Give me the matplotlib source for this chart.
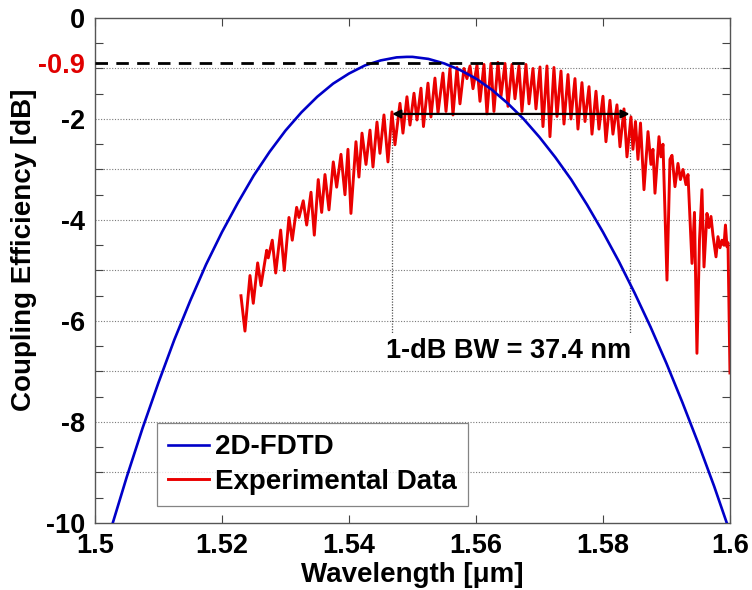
import matplotlib
matplotlib.use("Agg")
import matplotlib.pyplot as plt
from matplotlib.ticker import MultipleLocator, FixedLocator

plt.rcParams['font.family'] = ['Liberation Sans', 'DejaVu Sans']
plt.rcParams['font.weight'] = 'bold'

# 2D-FDTD simulation (wavelength in um, coupling efficiency in dB)
sim_wl = [1.5028, 1.5050, 1.5075, 1.5100, 1.5125, 1.5150, 1.5175, 1.5200,
          1.5225, 1.5250, 1.5275, 1.5300, 1.5325, 1.5350, 1.5375, 1.5400,
          1.5425, 1.5450, 1.5475, 1.5491, 1.5500, 1.5525, 1.5550, 1.5575,
          1.5600, 1.5625, 1.5650, 1.5675, 1.5700, 1.5725, 1.5750, 1.5775,
          1.5800, 1.5825, 1.5850, 1.5875, 1.5900, 1.5925, 1.5950, 1.5975,
          1.5995]
sim_db = [-10.00, -9.09, -8.12, -7.22, -6.37, -5.60, -4.88, -4.24,
          -3.66, -3.12, -2.65, -2.23, -1.87, -1.56, -1.30, -1.10,
          -0.94, -0.84, -0.78, -0.77, -0.77, -0.81, -0.90, -1.03,
          -1.20, -1.42, -1.69, -2.00, -2.36, -2.76, -3.20, -3.70,
          -4.24, -4.82, -5.45, -6.12, -6.84, -7.61, -8.42, -9.27,
          -10.00]

# Measured grating coupler response (wavelength in nm, dB)
exp_wl_nm = [1522.99, 1523.62, 1524.41, 1524.93, 1525.62, 1526.14, 1527.04, 1527.29,
             1527.92, 1528.46, 1529.24, 1529.81, 1530.55, 1531.07, 1531.76, 1532.13,
             1532.80, 1533.34, 1534.02, 1534.54, 1535.16, 1535.70, 1536.22, 1536.85,
             1537.53, 1538.06, 1538.74, 1539.37, 1539.84, 1540.31, 1541.10, 1541.57,
             1542.05, 1542.68, 1543.31, 1543.78, 1544.41, 1544.88, 1545.51, 1546.14,
             1546.77, 1547.24, 1548.03, 1548.50, 1549.13, 1549.61, 1550.24, 1550.71,
             1551.34, 1551.73, 1552.44, 1552.91, 1553.54, 1554.02, 1554.80, 1555.28,
             1555.91, 1556.38, 1557.01, 1557.48, 1558.11, 1558.58, 1559.06, 1559.53,
             1560.16, 1560.63, 1561.26, 1561.73, 1562.36, 1562.83, 1563.46, 1563.94,
             1564.57, 1565.04, 1565.67, 1566.14, 1566.77, 1567.24, 1567.87, 1568.35,
             1568.98, 1569.45, 1570.08, 1570.55, 1571.18, 1571.65, 1572.28, 1572.76,
             1573.39, 1573.86, 1574.49, 1574.96, 1575.59, 1576.06, 1576.69, 1577.17,
             1577.80, 1578.27, 1578.90, 1579.37, 1580.00, 1580.47, 1581.10, 1581.57,
             1582.20, 1582.68, 1583.31, 1583.78, 1584.41, 1584.72, 1585.12, 1585.51,
             1585.91, 1586.46, 1587.09, 1587.56, 1587.87, 1588.19, 1588.82, 1589.13,
             1589.45, 1590.08, 1590.55, 1590.87, 1591.34, 1591.81, 1592.20, 1592.60,
             1593.07, 1593.39, 1594.02, 1594.41, 1594.80, 1595.20, 1595.59, 1595.91,
             1596.38, 1596.69, 1597.01, 1597.32, 1597.80, 1598.11, 1598.43, 1598.74,
             1599.06, 1599.29, 1599.53, 1599.69, 1600.00]
exp_db = [-5.50, -6.20, -5.10, -5.65, -4.85, -5.30, -4.60, -4.75,
          -4.40, -5.05, -4.20, -5.00, -3.95, -4.40, -3.75, -3.95,
          -3.62, -4.10, -3.45, -4.30, -3.20, -3.85, -3.10, -3.80,
          -2.85, -3.35, -2.70, -3.50, -2.60, -3.87, -2.45, -3.15,
          -2.28, -2.90, -2.22, -2.95, -2.06, -2.68, -1.92, -2.85,
          -1.86, -2.51, -1.69, -2.28, -1.56, -2.12, -1.49, -2.02,
          -1.39, -2.15, -1.29, -1.96, -1.19, -1.88, -1.09, -1.85,
          -1.00, -1.92, -0.98, -1.70, -1.00, -1.20, -0.95, -1.40,
          -0.93, -1.65, -0.92, -1.90, -0.90, -1.85, -0.88, -1.55,
          -0.90, -1.75, -0.92, -1.60, -0.95, -1.85, -0.92, -1.70,
          -1.00, -1.80, -0.97, -2.15, -0.95, -2.35, -0.98, -1.95,
          -1.05, -2.10, -1.12, -2.00, -1.20, -2.20, -1.28, -2.05,
          -1.36, -2.30, -1.45, -2.20, -1.55, -2.45, -1.63, -2.30,
          -1.72, -2.55, -1.80, -2.75, -1.96, -2.60, -2.05, -2.80,
          -2.08, -3.40, -2.25, -2.90, -2.60, -3.47, -2.35, -2.75,
          -2.50, -5.19, -2.80, -2.72, -3.34, -2.88, -3.20, -3.00,
          -3.30, -3.10, -4.86, -3.85, -6.64, -4.40, -3.40, -4.93,
          -3.87, -4.15, -3.93, -4.30, -4.73, -4.33, -4.55, -4.40,
          -4.50, -4.10, -4.53, -4.45, -7.03]

peak_db = -0.9
peak_end_wl = 1.5682
bw_left, bw_right = 1.5468, 1.5842
bw_level = -1.9
bw_drop = -6.25
bw_text = "1-dB BW = 37.4 nm"

y_ticks = [0, -0.9, -2, -4, -6, -8, -10]
y_ticklabels = ['0', '-0.9', '-2', '-4', '-6', '-8', '-10']
x_ticks = [1.5, 1.52, 1.54, 1.56, 1.58, 1.6]
x_ticklabels = ['1.5', '1.52', '1.54', '1.56', '1.58', '1.6']

fig = plt.figure(figsize=(7.52, 5.90), dpi=100)
ax = fig.add_axes([0.1263, 0.1136, 0.8444, 0.8559])

# horizontal dotted grid at every whole dB
for g in range(-9, 0):
    ax.axhline(g, color='#7a7a7a', lw=0.8, ls=(0, (1, 1.5)), zorder=0)

ax.plot(sim_wl, sim_db, color='#0000c8', lw=1.9, label='2D-FDTD', zorder=3)
ax.plot([w / 1000 for w in exp_wl_nm], exp_db, color='#ea0000', lw=2.1,
        label='Experimental Data', zorder=2)

# peak level marker
ax.plot([1.5, peak_end_wl], [peak_db, peak_db], color='black', lw=2.0,
        ls=(0, (4.5, 3)), zorder=4)

# bandwidth markers
for xb in (bw_left, bw_right):
    ax.plot([xb, xb], [bw_level, bw_drop], color='#555555', lw=0.9,
            ls=(0, (1, 1.2)), zorder=1)
ax.annotate('', xy=(bw_left, bw_level), xytext=(bw_right, bw_level),
            arrowprops=dict(arrowstyle='<|-|>', color='black', lw=1.6,
                            mutation_scale=12, shrinkA=0, shrinkB=0),
            zorder=5)
ax.text(1.5652, -6.6, bw_text, ha='center', va='center',
        fontsize=19.5, fontweight='bold')

ax.set_xlim(1.5, 1.6)
ax.set_ylim(-10, 0)
ax.xaxis.set_major_locator(FixedLocator(x_ticks))
ax.set_xticklabels(x_ticklabels)
ax.yaxis.set_major_locator(FixedLocator(y_ticks))
ax.set_yticklabels(y_ticklabels)
ax.yaxis.set_minor_locator(MultipleLocator(0.5))
ax.get_yticklabels()[1].set_color('#e00000')

ax.tick_params(axis='x', which='major', direction='in', length=6, width=0.8,
               top=True, labelsize=19.5, pad=7, color='#444444')
ax.tick_params(axis='y', which='major', length=0, labelsize=19.5, pad=7)
ax.tick_params(axis='y', which='minor', direction='in', length=6, width=0.8,
               right=True, color='#444444')
for lab in ax.get_xticklabels() + ax.get_yticklabels():
    lab.set_fontweight('bold')

for sp in ax.spines.values():
    sp.set_color('#555555')
    sp.set_linewidth(1.0)

ax.set_xlabel('Wavelength [\u03bcm]', fontsize=20, fontweight='bold')
ax.xaxis.set_label_coords(0.5, -0.077)
ax.set_ylabel('Coupling Efficiency [dB]', fontsize=20, fontweight='bold')
ax.yaxis.set_label_coords(-0.092, 0.54)

leg = ax.legend(loc='lower left', bbox_to_anchor=(0.097, 0.034),
                frameon=True, fancybox=False, handlelength=1.5,
                handletextpad=0.2, borderpad=0.4, labelspacing=0.3,
                borderaxespad=0, prop={'weight': 'bold', 'size': 20})
leg.get_frame().set_edgecolor('#666666')
leg.get_frame().set_linewidth(0.9)

fig.savefig('out.png', dpi=100)
